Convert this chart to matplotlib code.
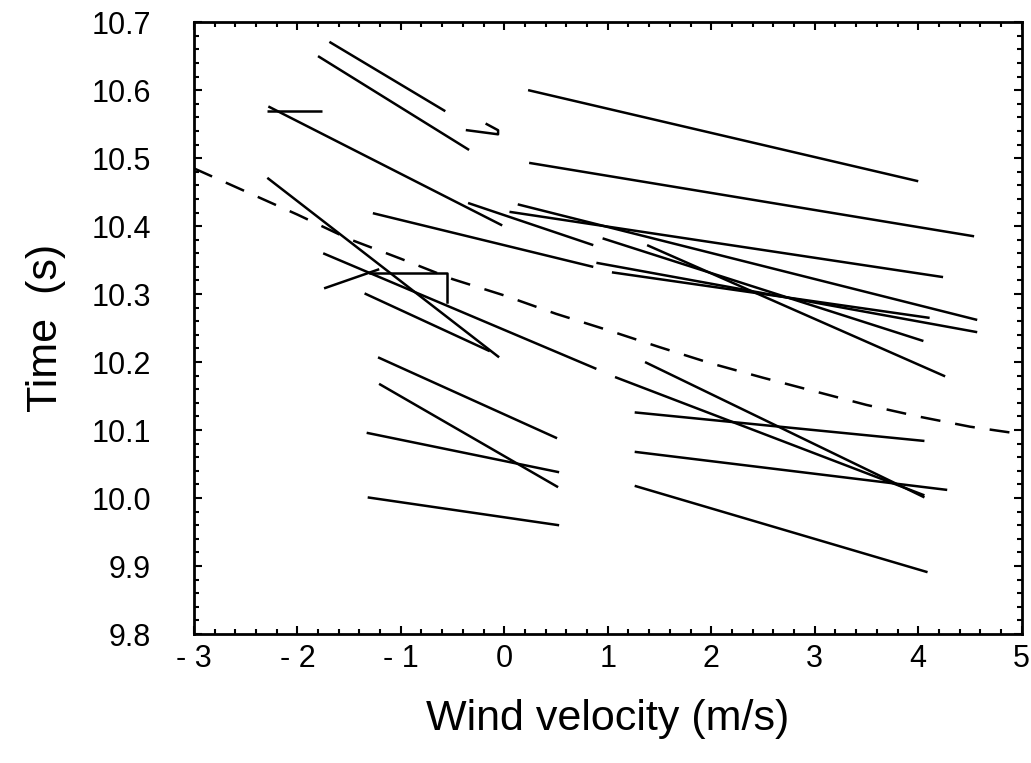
import matplotlib
matplotlib.use("Agg")
import matplotlib.pyplot as plt
import numpy as np
from matplotlib.ticker import MultipleLocator

plt.rcParams["font.family"] = ["Liberation Sans", "DejaVu Sans"]

# straight segments: start / end points (wind m/s, time s)
seg_x0 = [-1.69, -1.80, -2.29, -2.28, 0.23, 0.24, 0.05, 0.13, 0.95, 1.38, 1.04, 0.89,
          -0.35, -1.27, -2.29, -1.35, -1.75, -1.22, -1.21, -1.33, -1.32,
          1.36, 1.07, 1.26, 1.26, 1.26]
seg_y0 = [10.671, 10.650, 10.569, 10.576, 10.600, 10.493, 10.421, 10.432, 10.382, 10.372,
          10.332, 10.346, 10.434, 10.419, 10.471, 10.301, 10.360, 10.207, 10.168, 10.096,
          10.001, 10.200, 10.178, 10.126, 10.068, 10.018]
seg_x1 = [-0.57, -0.34, -1.76, -0.02, 4.00, 4.54, 4.24, 4.57, 4.05, 4.26, 4.11, 4.57,
          0.86, 0.86, -0.05, -0.14, 0.89, 0.51, 0.52, 0.53, 0.53,
          4.06, 4.06, 4.06, 4.28, 4.09]
seg_y1 = [10.569, 10.512, 10.569, 10.401, 10.466, 10.385, 10.325, 10.262, 10.231, 10.179,
          10.265, 10.244, 10.372, 10.340, 10.207, 10.216, 10.190, 10.088, 10.016, 10.038,
          9.960, 10.001, 10.004, 10.084, 10.012, 9.891]

# odd little polylines
rise_x = [-1.73, -1.22]
rise_y = [10.309, 10.336]
box_x = [-1.30, -0.55, -0.55]
box_y = [10.331, 10.331, 10.288]
hook_x = [-0.36, -0.06, -0.06, -0.17]
hook_y = [10.541, 10.535, 10.541, 10.550]

# dashed reference curve
curve_x = [-3.0, -2.5, -2.0, -1.5, -1.0, -0.5, 0.0, 0.5, 1.0, 1.5, 2.0, 2.5, 3.0, 3.5,
           4.0, 4.5, 5.0]
curve_y = [10.485, 10.451, 10.417, 10.381, 10.352, 10.322, 10.298, 10.271, 10.247,
           10.222, 10.198, 10.177, 10.157, 10.137, 10.120, 10.105, 10.094]

xticks = [-3, -2, -1, 0, 1, 2, 3, 4, 5]
xtick_labels = ["- 3", "- 2", "- 1", "0", "1", "2", "3", "4", "5"]
yticks = [9.8, 9.9, 10.0, 10.1, 10.2, 10.3, 10.4, 10.5, 10.6, 10.7]

fig = plt.figure(figsize=(10.31, 7.63), dpi=100)
ax = fig.add_axes([0.188, 0.169, 0.803, 0.802])

for x0, y0, x1, y1 in zip(seg_x0, seg_y0, seg_x1, seg_y1):
    ax.plot([x0, x1], [y0, y1], color="black", linewidth=1.8, solid_capstyle="butt")
for px, py in [(rise_x, rise_y), (box_x, box_y), (hook_x, hook_y)]:
    ax.plot(px, py, color="black", linewidth=1.8)
ax.plot(curve_x, curve_y, color="black", linewidth=1.8, dashes=(8, 6))

ax.set_xlim(-3, 5)
ax.set_ylim(9.8, 10.7)
ax.set_xticks(xticks)
ax.set_xticklabels(xtick_labels)
ax.set_yticks(yticks)
ax.set_yticklabels([f"{v:.1f}" for v in yticks])
ax.xaxis.set_minor_locator(MultipleLocator(0.2))
ax.yaxis.set_minor_locator(MultipleLocator(0.02))
ax.tick_params(which="both", direction="in", top=True, right=True, width=1.5)
ax.tick_params(which="major", length=6)
ax.tick_params(which="minor", length=3.5)
ax.tick_params(axis="x", labelsize=22, pad=7)
ax.tick_params(axis="y", labelsize=22, pad=31)
for sp in ax.spines.values():
    sp.set_linewidth(2)

ax.set_xlabel("Wind velocity (m/s)", fontsize=31, labelpad=18)
ax.set_ylabel("Time  (s)", fontsize=31, labelpad=18)

fig.savefig("out.png", dpi=100)
